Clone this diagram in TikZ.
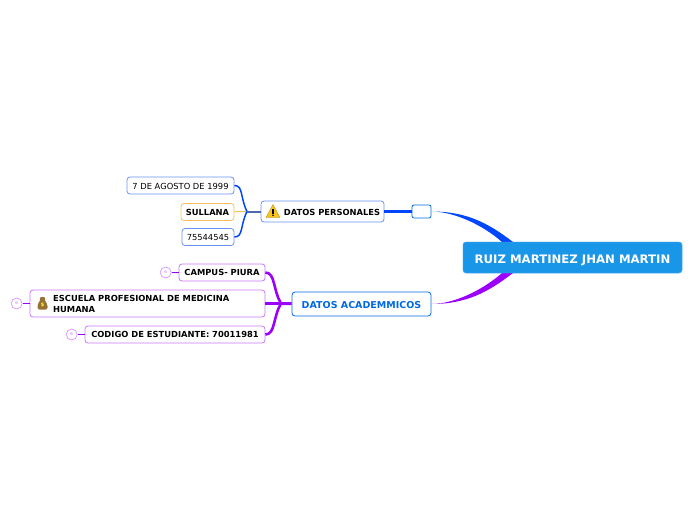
\documentclass[tikz,border=0pt]{standalone}
\usepackage{fontspec}
\setmainfont{DejaVu Sans}
\usetikzlibrary{positioning, arrows.meta}
\definecolor{rootblue}{RGB}{25, 150, 232}
\definecolor{linkblue}{RGB}{0, 70, 250}
\definecolor{edgeblue}{RGB}{105, 145, 245}
\definecolor{headblue}{RGB}{0, 105, 225}
\definecolor{linkpurple}{RGB}{155, 0, 250}
\definecolor{edgepurple}{RGB}{200, 120, 250}
\definecolor{edgeorange}{RGB}{250, 190, 100}
\definecolor{warnyellow}{RGB}{250, 195, 30}
\definecolor{bagbrown}{RGB}{150, 115, 50}

\begin{document}
\begin{tikzpicture}[
                x=1pt, y=-1pt,
                rootbox/.style={fill=rootblue, draw=rootblue!70, rounded corners=3pt,
                    minimum width=219pt, minimum height=31pt, text=white,
                    text height=12.5pt, text depth=0pt,
                    font=\fontsize{11.7}{13}\selectfont\bfseries},
                headbox/.style={draw=headblue, fill=white, rounded corners=3pt, line width=0.8pt,
                    minimum height=24pt, text=headblue, text height=8pt, text depth=0pt,
                    font=\fontsize{9.5}{11}\selectfont\bfseries},
                bluebox/.style={draw=edgeblue, fill=white, rounded corners=3pt, line width=0.8pt,
                    minimum height=17pt, inner sep=0pt, text height=7.6pt, text depth=0pt,
                    font=\fontsize{8.35}{10}\selectfont},
                purplebox/.style={draw=edgepurple, fill=white, rounded corners=3pt, line width=0.8pt,
                    minimum height=17pt, inner sep=0pt, align=left,
                    font=\fontsize{8.35}{10}\selectfont\bfseries},
                numdot/.style={circle, draw=edgepurple!70, fill=white, minimum size=11pt, line width=0.8pt,
                    inner sep=0pt, text=edgepurple, font=\fontsize{4}{4}\selectfont},
                thinlnk/.style={linkblue, line width=1.5pt},
                thicklnk/.style={linkpurple, line width=2.6pt}
            ]
                \useasboundingbox (0, 0) rectangle (696, 520);

                % tapered links to the root
                \coordinate (j1) at (247, 211.5);
                \coordinate (j2) at (281, 303.5);
                \node[rootbox] (root) at (572.5, 257.5) {RUIZ MARTINEZ JHAN MARTIN};
                \node[draw=headblue, fill=white, rounded corners=2pt, minimum width=19pt, line width=0.8pt,
                      minimum height=13pt, inner sep=0pt] (blank) at (421.5, 211.5) {};
                \node[headbox, minimum width=139pt] (acad) at (361.5, 304) {DATOS ACADEMMICOS};
                \node[bluebox, minimum width=123pt, minimum height=21pt,
                      font=\fontsize{8.35}{10}\selectfont\bfseries] (pers)
                      at (322.5, 211.5) {\hspace{19pt}DATOS PERSONALES};
                \coordinate (t1) at ([xshift=39pt]root.north west);
                \coordinate (t2) at ([xshift=50pt]root.north west);
                \coordinate (b1) at ([xshift=39pt]root.south west);
                \coordinate (b2) at ([xshift=50pt]root.south west);

                \fill[linkblue] (blank.east) .. controls +(35, 0) and +(-25, -19) .. (t2)
                    -- (t1) .. controls +(-20, -17.5) and +(22, 0) .. (blank.east);
                \fill[linkpurple] (acad.east) .. controls +(35, 0) and +(-25, 19) .. (b2)
                    -- (b1) .. controls +(-20, 17.5) and +(22, 0) .. (acad.east);
                \node[rootbox] (rootcopy) at (root) {RUIZ MARTINEZ JHAN MARTIN};

                \draw[linkblue, line width=3pt] (pers) -- (blank);
                \draw[linkpurple, line width=3pt] (j2) -- (acad);

                % datos personales
                \node[bluebox, minimum width=107pt] (date) at (180.5, 185.5) {7 DE AGOSTO DE 1999};
                \node[bluebox, draw=edgeorange, minimum width=53pt,
                      font=\fontsize{8.35}{10}\selectfont\bfseries] (city) at (207.5, 212) {SULLANA};
                \node[bluebox, minimum width=52pt] (code) at (208, 237) {75544545};

                \draw[edgeorange, line width=1.2pt] (city) -- (j1);
                \draw[thinlnk] (date.east) .. controls +(9, 0) and +(-7, -14) .. (j1);
                \draw[thinlnk] (code.east) .. controls +(9, 0) and +(-7, 14) .. (j1);
                \draw[gray!60!linkblue, line width=2pt] (j1) -- (pers);

                % warning sign
                \fill[warnyellow, draw=warnyellow!70!black, line width=0.3pt, line join=round]
                    (273, 204.5) -- (280, 217.5) -- (266, 217.5) -- cycle;
                \fill[black] (272.3, 208.5) rectangle (273.7, 213.5);
                \fill[black] (273, 215.3) circle (0.9);

                % datos academicos
                \node[purplebox, minimum width=86pt] (campus) at (222, 272.5) {CAMPUS- PIURA};
                \node[purplebox, minimum width=235pt, minimum height=27pt] (school) at (147.5, 303.5) {};
                \node[align=left, inner sep=0pt, anchor=west,
                      font=\fontsize{8.35}{11}\selectfont\bfseries] (schooltxt)
                      at (53, 303.5) {ESCUELA PROFESIONAL DE MEDICINA\\HUMANA};
                \node[purplebox, minimum width=180pt] (student) at (175, 334.5) {CODIGO DE ESTUDIANTE: 70011981};

                \draw[thicklnk] (campus.east) .. controls +(10, 0) and +(-8, -13) .. (j2);
                \draw[thicklnk] (student.east) .. controls +(10, 0) and +(-8, 13) .. (j2);
                \draw[linkpurple, line width=3pt] (school) -- (j2);

                \node[numdot, left=7pt of campus] (n1) {6};
                \node[numdot, left=7pt of school] (n2) {6};
                \node[numdot, left=7pt of student] (n3) {6};
                \draw[linkpurple, line width=1.2pt] (n1) -- (campus);
                \draw[linkpurple, line width=1.2pt] (n2) -- (school);
                \draw[linkpurple, line width=1.2pt] (n3) -- (student);

                % money bag
                \fill[bagbrown, rounded corners=2pt] (39.5, 297) -- (45.5, 297) -- (44, 299.5)
                    -- (47.5, 304) -- (47.5, 309.5) -- (37.5, 309.5) -- (37.5, 304) -- (41, 299.5) -- cycle;
                \node[inner sep=0pt, text=yellow!70, font=\fontsize{5}{5}\selectfont\bfseries] (dollar)
                    at (42.5, 305) {\$};

            \end{tikzpicture}
\end{document}
